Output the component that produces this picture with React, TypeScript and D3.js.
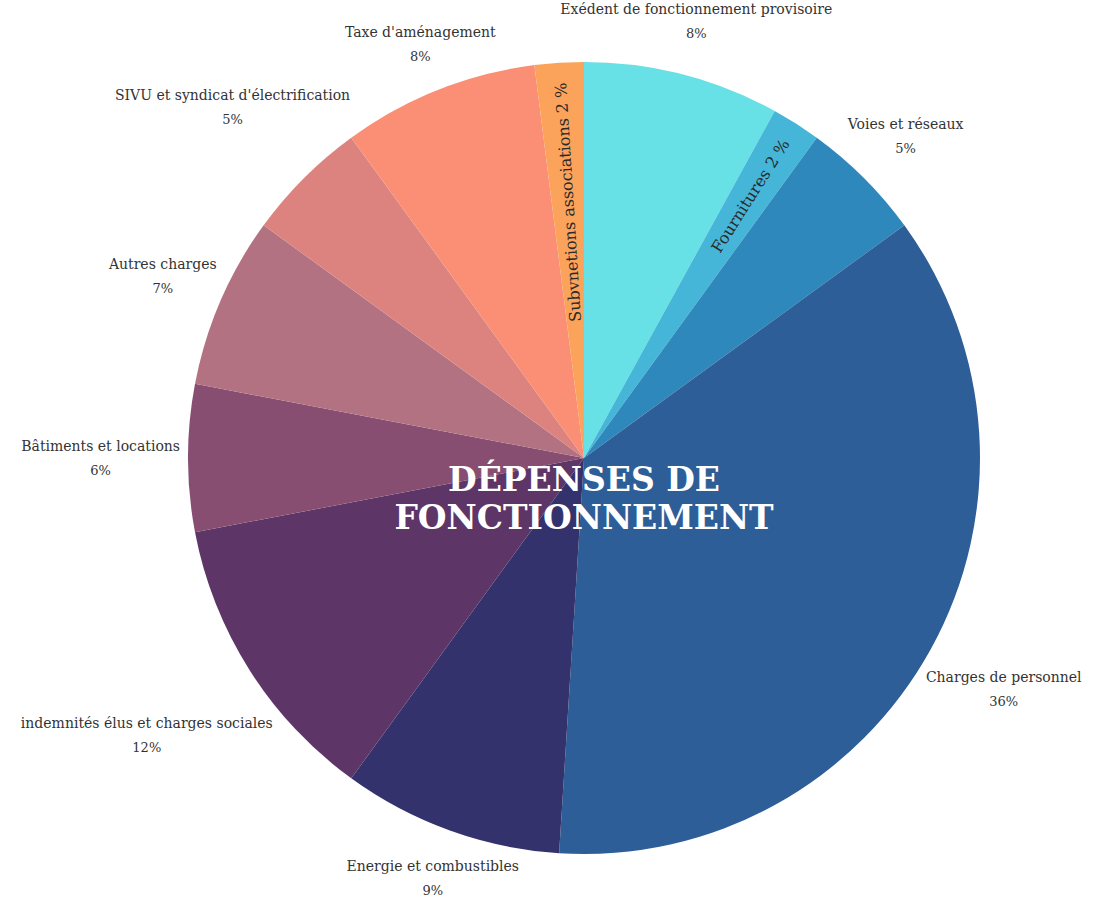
import React, { useRef, useEffect } from "react";
import * as d3 from "d3";

// categories clockwise from 12 o'clock
const categories = [
  "Exédent de fonctionnement provisoire",
  "Fournitures",
  "Voies et réseaux",
  "Charges de personnel",
  "Energie et combustibles",
  "indemnités élus et charges sociales",
  "Bâtiments et locations",
  "Autres charges",
  "SIVU et syndicat d'électrification",
  "Taxe d'aménagement",
  "Subvnetions associations",
];
const values = [8, 2, 5, 36, 9, 12, 6, 7, 5, 8, 2];
const colors = [
  "#67e0e6", "#45b6d8", "#2f88bb", "#2e5e97", "#33326c", "#5d3566",
  "#874e71", "#b37282", "#dc837f", "#fa8f75", "#fba35b",
];
// slices labelled inside along the radius
const insideLabels = ["Fournitures", "Subvnetions associations"];
const titleLines = ["DÉPENSES DE", "FONCTIONNEMENT"];

const W = 1098;
const H = 898;

const App = () => {
  const svgRef = useRef<SVGSVGElement>(null);

  useEffect(() => {
    const svg = d3.select(svgRef.current);
    svg.selectAll("*").remove();

    const cx = 584;
    const cy = 458;
    const r = 396;
    const font = "'DejaVu Serif', serif";

    const data = categories.map((c, i) => ({ name: c, value: values[i], color: colors[i] }));
    const pie = d3.pie<any>().value((d) => d.value).sort(null);
    const arcs = pie(data);
    const arc = d3.arc<any>().innerRadius(0).outerRadius(r);

    const g = svg.append("g").attr("transform", `translate(${cx},${cy})`);

    g.selectAll("path")
      .data(arcs)
      .join("path")
      .attr("d", arc)
      .attr("fill", (d) => d.data.color);

    // outside labels
    const pad = 8;
    const lineH = 24;
    arcs.forEach((a) => {
      if (insideLabels.includes(a.data.name)) return;
      const mid = (a.startAngle + a.endAngle) / 2;
      const ux = Math.sin(mid);
      const uy = -Math.cos(mid);
      const t = svg
        .append("text")
        .attr("text-anchor", "middle")
        .attr("font-family", font)
        .attr("font-size", 14)
        .attr("fill", "#333");
      const t1 = t.append("tspan").attr("x", 0).attr("dy", 0).text(a.data.name);
      t.append("tspan").attr("x", 0).attr("dy", lineH).attr("font-size", 13).text(`${a.data.value}%`);
      const w = (t1.node() as SVGTSpanElement).getComputedTextLength();
      const h = 28;
      const support = Math.abs(ux) * (w / 2) + Math.abs(uy) * (h / 2);
      const d = r + pad + support;
      const x = cx + ux * d;
      const y = cy + uy * d;
      t.attr("transform", `translate(${x},${y - lineH / 2 + 5})`);
    });

    // inside radial labels
    arcs.forEach((a) => {
      if (!insideLabels.includes(a.data.name)) return;
      const mid = (a.startAngle + a.endAngle) / 2;
      const deg = (mid * 180) / Math.PI - 90;
      const rr = r - 20;
      const x = Math.sin(mid) * rr;
      const y = -Math.cos(mid) * rr;
      g.append("text")
        .attr("transform", `translate(${x},${y}) rotate(${deg})`)
        .attr("text-anchor", "end")
        .attr("dy", "0.35em")
        .attr("font-family", font)
        .attr("font-size", 16)
        .attr("fill", "#2a2a2a")
        .text(`${a.data.name} ${a.data.value} %`);
    });

    // title
    const title = g
      .append("text")
      .attr("text-anchor", "middle")
      .attr("font-family", font)
      .attr("font-weight", "bold")
      .attr("font-size", 33)
      .attr("fill", "#fff");
    titleLines.forEach((l, i) => {
      title.append("tspan").attr("x", 0).attr("y", 33 + i * 38).text(l);
    });
  }, []);

  return (
    <svg
      ref={svgRef}
      width={W}
      height={H}
      style={{ position: "absolute", left: 0, top: 0, background: "#fff" }}
    />
  );
};

export default App;
